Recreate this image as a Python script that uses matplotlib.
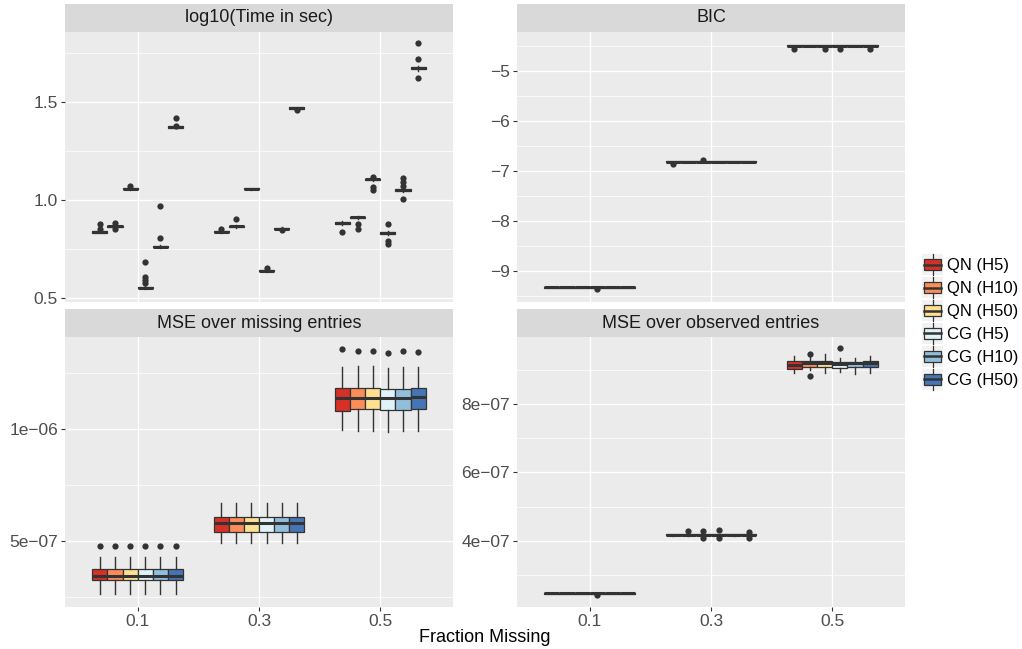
import matplotlib
matplotlib.use("Agg")
import matplotlib.pyplot as plt
from matplotlib.patches import Patch, Rectangle
from matplotlib.lines import Line2D
from matplotlib.legend_handler import HandlerBase

plt.rcParams['font.family'] = ['Liberation Sans', 'DejaVu Sans']

METHODS = ["QN (H5)", "QN (H10)", "QN (H50)", "CG (H5)", "CG (H10)", "CG (H50)"]
COLORS = ["#D73027", "#FC8D59", "#FEE090", "#E0F3F8", "#91BFDB", "#4575B4"]
FRACTIONS = ["0.1", "0.3", "0.5"]
MSE_UNIT = 1e-7

# log10(Time in sec): rows = fraction missing, columns = method
time_med = [[0.837, 0.866, 1.058, 0.553, 0.762, 1.372],
            [0.838, 0.866, 1.056, 0.640, 0.853, 1.468],
            [0.884, 0.911, 1.105, 0.832, 1.051, 1.672]]
time_q1 = [[0.834, 0.862, 1.055, 0.550, 0.759, 1.369],
           [0.835, 0.863, 1.054, 0.637, 0.850, 1.465],
           [0.880, 0.908, 1.101, 0.828, 1.047, 1.667]]
time_q3 = [[0.841, 0.870, 1.061, 0.557, 0.765, 1.376],
           [0.841, 0.869, 1.059, 0.644, 0.857, 1.472],
           [0.889, 0.915, 1.109, 0.837, 1.056, 1.678]]
time_lo = [[0.830, 0.857, 1.052, 0.545, 0.755, 1.365],
           [0.831, 0.859, 1.051, 0.633, 0.846, 1.461],
           [0.874, 0.901, 1.096, 0.821, 1.040, 1.660]]
time_hi = [[0.846, 0.874, 1.064, 0.561, 0.770, 1.381],
           [0.845, 0.873, 1.062, 0.648, 0.861, 1.476],
           [0.895, 0.921, 1.114, 0.843, 1.062, 1.686]]
time_fliers = [[[0.876, 0.852], [0.881, 0.850], [1.073], [0.682, 0.606, 0.592, 0.575], [0.808, 0.968], [1.420, 1.378]],
               [[0.852], [0.903], [], [0.651], [0.845], [1.460]],
               [[0.835], [0.876, 0.852], [1.119, 1.068, 1.051], [0.878, 0.791, 0.776],
                [1.111, 1.093, 1.070, 1.004], [1.800, 1.719, 1.622]]]

# BIC
bic_med = [[-9.32, -9.32, -9.32, -9.32, -9.32, -9.32],
           [-6.81, -6.81, -6.81, -6.81, -6.81, -6.81],
           [-4.49, -4.49, -4.49, -4.49, -4.49, -4.49]]
bic_q1 = [[-9.33, -9.33, -9.33, -9.33, -9.33, -9.33],
          [-6.82, -6.82, -6.82, -6.82, -6.82, -6.82],
          [-4.50, -4.50, -4.50, -4.50, -4.50, -4.50]]
bic_q3 = [[-9.31, -9.31, -9.31, -9.31, -9.31, -9.31],
          [-6.80, -6.80, -6.80, -6.80, -6.80, -6.80],
          [-4.48, -4.48, -4.48, -4.48, -4.48, -4.48]]
bic_fliers = [[[], [], [], [-9.36], [], []],
              [[-6.85], [], [-6.77], [], [], []],
              [[-4.55], [], [-4.55], [-4.55], [], [-4.55]]]

# MSE over missing entries (units of 1e-7)
miss_med = [[3.44, 3.44, 3.44, 3.44, 3.44, 3.44],
            [5.80, 5.80, 5.80, 5.80, 5.80, 5.80],
            [11.37, 11.40, 11.40, 11.37, 11.37, 11.41]]
miss_q1 = [[3.26, 3.26, 3.26, 3.26, 3.26, 3.26],
           [5.42, 5.42, 5.42, 5.42, 5.42, 5.42],
           [10.82, 10.88, 10.88, 10.85, 10.85, 10.88]]
miss_q3 = [[3.74, 3.74, 3.74, 3.74, 3.74, 3.74],
           [6.06, 6.06, 6.06, 6.06, 6.06, 6.06],
           [11.85, 11.85, 11.82, 11.80, 11.77, 11.82]]
miss_lo = [[2.62, 2.62, 2.62, 2.62, 2.62, 2.62],
           [4.90, 4.90, 4.90, 4.90, 4.90, 4.90],
           [9.96, 9.93, 9.93, 9.85, 9.93, 9.93]]
miss_hi = [[4.27, 4.27, 4.27, 4.27, 4.27, 4.27],
           [6.68, 6.68, 6.68, 6.68, 6.68, 6.68],
           [12.78, 12.81, 12.81, 12.71, 12.78, 12.78]]
miss_fliers = [[[4.76], [4.76], [4.76], [4.76], [4.76], [4.76]],
               [[], [], [], [], [], []],
               [[13.59], [13.48], [13.48], [13.41], [13.48], [13.44]]]

# MSE over observed entries (units of 1e-7)
obs_med = [[2.46, 2.46, 2.46, 2.46, 2.46, 2.46],
           [4.18, 4.18, 4.18, 4.18, 4.18, 4.18],
           [9.14, 9.21, 9.19, 9.17, 9.19, 9.21]]
obs_q1 = [[2.45, 2.45, 2.45, 2.45, 2.45, 2.45],
          [4.17, 4.17, 4.17, 4.17, 4.17, 4.17],
          [9.03, 9.09, 9.09, 9.06, 9.08, 9.07]]
obs_q3 = [[2.47, 2.47, 2.47, 2.47, 2.47, 2.47],
          [4.19, 4.19, 4.19, 4.19, 4.19, 4.19],
          [9.26, 9.26, 9.25, 9.22, 9.24, 9.26]]
obs_lo = [[2.44, 2.44, 2.44, 2.44, 2.44, 2.44],
          [4.15, 4.15, 4.15, 4.15, 4.15, 4.15],
          [8.90, 8.98, 8.90, 8.95, 8.87, 8.92]]
obs_hi = [[2.48, 2.48, 2.48, 2.48, 2.48, 2.48],
          [4.21, 4.21, 4.21, 4.21, 4.21, 4.21],
          [9.40, 9.39, 9.45, 9.36, 9.34, 9.41]]
obs_fliers = [[[], [], [], [2.41], [], []],
              [[], [4.27], [4.27, 4.08], [4.31, 4.08], [], [4.25, 4.08]],
              [[], [9.47, 8.83], [], [9.63], [], []]]

PANELS = [
    dict(title="log10(Time in sec)", med=time_med, q1=time_q1, q3=time_q3,
         lo=time_lo, hi=time_hi, fliers=time_fliers, scale=1.0,
         ylim=(0.48, 1.857), ticks=[0.5, 1.0, 1.5], labels=["0.5", "1.0", "1.5"],
         minor=[0.75, 1.25, 1.75]),
    dict(title="BIC", med=bic_med, q1=bic_q1, q3=bic_q3,
         lo=bic_q1, hi=bic_q3, fliers=bic_fliers, scale=1.0,
         ylim=(-9.62, -4.22), ticks=[-9, -8, -7, -6, -5],
         labels=["\u22129", "\u22128", "\u22127", "\u22126", "\u22125"],
         minor=[-9.5, -8.5, -7.5, -6.5, -5.5, -4.5]),
    dict(title="MSE over missing entries", med=miss_med, q1=miss_q1, q3=miss_q3,
         lo=miss_lo, hi=miss_hi, fliers=miss_fliers, scale=MSE_UNIT,
         ylim=(2.054e-7, 1.4107e-6), ticks=[5e-7, 1e-6], labels=["5e\u221207", "1e\u221206"],
         minor=[2.5e-7, 7.5e-7, 1.25e-6]),
    dict(title="MSE over observed entries", med=obs_med, q1=obs_q1, q3=obs_q3,
         lo=obs_lo, hi=obs_hi, fliers=obs_fliers, scale=MSE_UNIT,
         ylim=(2.06e-7, 9.96e-7), ticks=[4e-7, 6e-7, 8e-7],
         labels=["4e\u221207", "6e\u221207", "8e\u221207"],
         minor=[3e-7, 5e-7, 7e-7, 9e-7]),
]

W, H = 1022, 649
fig = plt.figure(figsize=(W / 100, H / 100), dpi=100)

# panel boxes in pixels: left, top
panel_px = [(65, 32), (517, 32), (65, 337), (517, 337)]
pw, ph, strip_h = 388, 270, 28
box_w = 0.125
offsets = [(k - 2.5) * box_w for k in range(6)]

for i, (p, (px, py)) in enumerate(zip(PANELS, panel_px)):
    ax = fig.add_axes([px / W, 1 - (py + ph) / H, pw / W, ph / H])
    ax.set_facecolor("#EBEBEB")
    for s in ax.spines.values():
        s.set_visible(False)
    sc = p["scale"]
    for g in range(3):
        for m in range(6):
            st = dict(med=p["med"][g][m] * sc, q1=p["q1"][g][m] * sc, q3=p["q3"][g][m] * sc,
                      whislo=p["lo"][g][m] * sc, whishi=p["hi"][g][m] * sc,
                      fliers=[v * sc for v in p["fliers"][g][m]])
            ax.bxp([st], positions=[g + 1 + offsets[m]], widths=box_w, patch_artist=True,
                   showcaps=False, manage_ticks=False,
                   boxprops=dict(facecolor=COLORS[m], edgecolor="#333333", linewidth=0.9),
                   medianprops=dict(color="#333333", linewidth=2.2, solid_capstyle="butt"),
                   whiskerprops=dict(color="#333333", linewidth=1.0),
                   flierprops=dict(marker="o", markersize=4.5, markerfacecolor="#333333",
                                   markeredgecolor="none"),
                   zorder=3)
    ax.set_xlim(0.4, 3.6)
    ax.set_ylim(*p["ylim"])
    ax.set_xticks([1, 2, 3])
    ax.set_yticks(p["ticks"])
    ax.set_yticklabels(p["labels"])
    ax.set_yticks(p["minor"], minor=True)
    ax.grid(True, which="major", color="white", linewidth=1.0, zorder=0)
    ax.grid(True, which="minor", axis="y", color="white", linewidth=0.5, zorder=0)
    ax.set_axisbelow(True)
    ax.tick_params(which="major", length=2.9, width=0.8, color="#333333",
                   labelcolor="#4D4D4D", labelsize=12.5, pad=2.2)
    ax.tick_params(which="minor", length=0)
    if i < 2:
        ax.tick_params(axis="x", length=0, labelbottom=False)
    else:
        ax.set_xticklabels(FRACTIONS)

    sax = fig.add_axes([px / W, 1 - py / H, pw / W, strip_h / H])
    sax.set_facecolor("#D9D9D9")
    sax.set_xticks([])
    sax.set_yticks([])
    for s in sax.spines.values():
        s.set_visible(False)
    sax.text(0.5, 0.5, p["title"], ha="center", va="center", fontsize=13,
             color="#1A1A1A", transform=sax.transAxes)

fig.text(485 / W, 1 - 638 / H, "Fraction Missing", ha="center", va="center", fontsize=13)


class BoxKey(HandlerBase):
    def create_artists(self, legend, orig_handle, xdescent, ydescent, width, height,
                       fontsize, trans):
        x0, y0 = -xdescent, -ydescent
        bg = Rectangle((x0, y0), width, height, facecolor="#F2F2F2", edgecolor="none",
                       transform=trans)
        box = Rectangle((x0 + 0.1 * width, y0 + 0.25 * height), 0.8 * width, 0.5 * height,
                        facecolor=orig_handle.get_facecolor(), edgecolor="#333333",
                        linewidth=0.9, transform=trans)
        med = Line2D([x0 + 0.1 * width, x0 + 0.9 * width], [y0 + 0.5 * height] * 2,
                     color="#333333", linewidth=1.8, transform=trans)
        cx = x0 + 0.5 * width
        wt = Line2D([cx, cx], [y0 + 0.75 * height, y0 + height], color="#333333",
                    linewidth=0.9, transform=trans)
        wb = Line2D([cx, cx], [y0, y0 + 0.25 * height], color="#333333",
                    linewidth=0.9, transform=trans)
        return [bg, box, med, wt, wb]


handles = [Patch(facecolor=c) for c in COLORS]
fig.legend(handles, METHODS, handler_map={Patch: BoxKey()}, loc="center left",
           bbox_to_anchor=(922 / W, 1 - 322 / H), frameon=False, fontsize=12,
           handlelength=1.26, handleheight=1.56, labelspacing=0.12,
           handletextpad=0.25, borderpad=0, borderaxespad=0)

fig.savefig("out.png", dpi=100)
